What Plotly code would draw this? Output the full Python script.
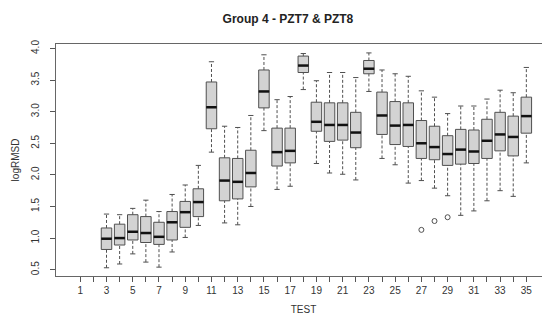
import plotly.graph_objects as go

# ---- data ----
test_labels = [str(i) for i in range(1, 36)]
box_tests = list(range(3, 36))
whisker_low = [0.53, 0.59, 0.75, 0.62, 0.54, 0.78, 1.01, 1.20, 2.36, 1.24, 1.21, 1.50, 2.70,
               1.77, 1.82, 3.35, 2.18, 2.03, 2.01, 1.92, 3.32, 2.26, 2.16, 1.87, 1.91, 1.79,
               1.67, 1.36, 1.43, 1.59, 1.75, 1.66, 2.19]
q1 = [0.82, 0.89, 0.97, 0.93, 0.90, 0.97, 1.17, 1.34, 2.73, 1.59, 1.62, 1.81, 3.06,
      2.14, 2.19, 3.62, 2.69, 2.53, 2.55, 2.43, 3.60, 2.64, 2.48, 2.45, 2.26, 2.24,
      2.15, 2.17, 2.18, 2.26, 2.38, 2.30, 2.66]
median = [0.99, 1.00, 1.10, 1.08, 1.02, 1.25, 1.41, 1.57, 3.07, 1.91, 1.89, 2.03, 3.32,
          2.36, 2.38, 3.73, 2.84, 2.79, 2.79, 2.67, 3.68, 2.94, 2.78, 2.79, 2.50, 2.44,
          2.33, 2.40, 2.37, 2.54, 2.64, 2.60, 2.93]
q3 = [1.16, 1.22, 1.37, 1.34, 1.25, 1.42, 1.58, 1.78, 3.47, 2.27, 2.26, 2.39, 3.66,
      2.74, 2.74, 3.88, 3.15, 3.14, 3.14, 2.99, 3.81, 3.31, 3.16, 3.14, 2.86, 2.77,
      2.62, 2.72, 2.71, 2.88, 2.99, 2.93, 3.23]
whisker_high = [1.38, 1.37, 1.47, 1.60, 1.42, 1.69, 1.84, 2.15, 3.79, 2.77, 2.75, 2.94, 3.90,
                3.19, 3.24, 3.92, 3.49, 3.62, 3.62, 3.54, 3.93, 3.66, 3.60, 3.56, 3.33, 3.23,
                2.97, 3.09, 3.09, 3.20, 3.34, 3.30, 3.70]
outlier_x = [27, 28, 29]
outlier_y = [1.13, 1.27, 1.33]
y_ticks = [0.5, 1.0, 1.5, 2.0, 2.5, 3.0, 3.5, 4.0]

BOX_HALF = 0.4
CAP_HALF = 0.2
edge = "#505050"
font = "Liberation Sans, Arial, sans-serif"

# whiskers (dashed) and caps (solid) as line segments in data space
wx, wy, cx, cy, mx, my = [], [], [], [], [], []
for x, lo, a, m, b, hi in zip(box_tests, whisker_low, q1, median, q3, whisker_high):
    wx += [x, x, None, x, x, None]
    wy += [b, hi, None, lo, a, None]
    cx += [x - CAP_HALF, x + CAP_HALF, None, x - CAP_HALF, x + CAP_HALF, None]
    cy += [hi, hi, None, lo, lo, None]
    mx += [x - BOX_HALF, x + BOX_HALF, None]
    my += [m, m, None]

fig = go.Figure()
fig.add_trace(go.Scatter(x=wx, y=wy, mode="lines", line=dict(color=edge, width=1, dash="3px,2px"),
                         hoverinfo="skip", showlegend=False))
fig.add_trace(go.Scatter(x=cx, y=cy, mode="lines", line=dict(color=edge, width=1),
                         hoverinfo="skip", showlegend=False))
fig.add_trace(go.Box(x=box_tests, q1=q1, median=median, q3=q3,
                     lowerfence=q1, upperfence=q3,
                     width=2 * BOX_HALF, whiskerwidth=0,
                     fillcolor="#d3d3d3", line=dict(color=edge, width=1),
                     boxpoints=False, showlegend=False))
fig.add_trace(go.Scatter(x=mx, y=my, mode="lines", line=dict(color="#111111", width=2.5),
                         hoverinfo="skip", showlegend=False))
fig.add_trace(go.Scatter(x=outlier_x, y=outlier_y, mode="markers",
                         marker=dict(symbol="circle-open", size=5, color=edge, line=dict(width=1)),
                         showlegend=False))

fig.update_layout(
    width=550, height=320,
    margin=dict(l=48, r=7, t=36, b=52),
    paper_bgcolor="white", plot_bgcolor="white",
    font=dict(family=font, size=10, color="#333333"),
    title=dict(text="<b>Group 4 - PZT7 & PZT8</b>", x=0.509, xref="container", xanchor="center",
               y=0.965, yref="container", yanchor="middle",
               font=dict(size=12, color="#222222", family=font)),
)
fig.update_xaxes(
    range=[-0.85, 36.88], tickmode="array",
    tickvals=list(range(1, 36)),
    ticktext=[t if int(t) % 2 == 1 else "" for t in test_labels],
    ticks="outside", ticklen=5, tickcolor="#555555", tickwidth=1,
    showline=True, linecolor="#666666", linewidth=1, mirror=True,
    showgrid=False, zeroline=False, ticklabelstandoff=0,
    title=dict(text="TEST", standoff=10, font=dict(size=10)),
)
fig.update_yaxes(
    range=[0.40, 4.071], tickmode="array", tickvals=y_ticks,
    ticktext=[f"{v:.1f}" for v in y_ticks], tickangle=-90,
    ticks="outside", ticklen=5, tickcolor="#555555", tickwidth=1,
    showline=True, linecolor="#666666", linewidth=1, mirror=True,
    showgrid=False, zeroline=False, ticklabelstandoff=7,
    title=dict(text="logRMSD", standoff=8, font=dict(size=10)),
)

fig.write_html("out.html")
